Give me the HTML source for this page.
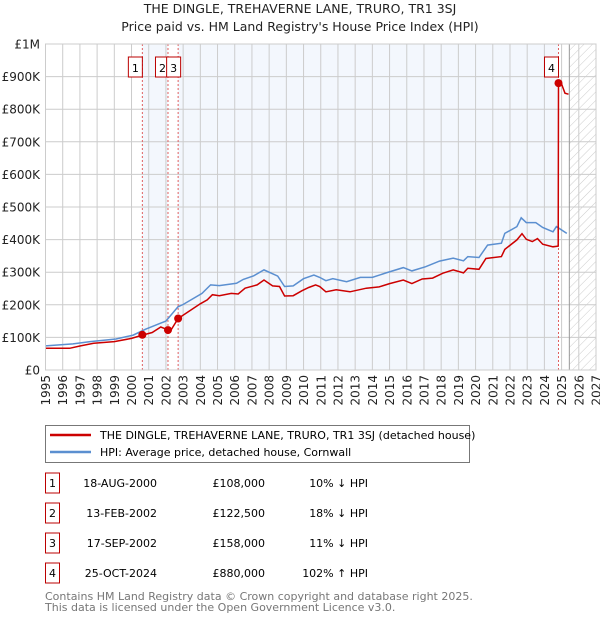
<!DOCTYPE html>
<html><head><meta charset="utf-8"><style>
body{margin:0;background:#fff;font-family:"DejaVu Sans","Liberation Sans",sans-serif;}
svg text{font-family:"DejaVu Sans","Liberation Sans",sans-serif;}
</style></head><body>
<svg id="c" width="600" height="620" xmlns="http://www.w3.org/2000/svg">
<defs><pattern id="hatch" width="6" height="6" patternUnits="userSpaceOnUse" patternTransform="rotate(45)"><line x1="0" y1="0" x2="0" y2="6" stroke="#ccc" stroke-width="1"/></pattern></defs>
<text x="300" y="13" text-anchor="middle" font-size="12.5" fill="#222">THE DINGLE, TREHAVERNE LANE, TRURO, TR1 3SJ</text>
<text x="300" y="31" text-anchor="middle" font-size="12.5" fill="#222">Price paid vs. HM Land Registry's House Price Index (HPI)</text>
<g id="plot"></g>
<g>
<rect x="45.5" y="425.5" width="424" height="37" fill="#fff" stroke="#777"/>
<line x1="50" y1="435" x2="91" y2="435" stroke="#cc0000" stroke-width="2.5"/>
<text x="100" y="439" font-size="11" fill="#000">THE DINGLE, TREHAVERNE LANE, TRURO, TR1 3SJ (detached house)</text>
<line x1="50" y1="452" x2="91" y2="452" stroke="#5b8fd0" stroke-width="2.5"/>
<text x="100" y="456" font-size="11" fill="#000">HPI: Average price, detached house, Cornwall</text>
</g>
<g id="table" font-size="11" fill="#000"></g>
<text x="45" y="600" font-size="11" fill="#777">Contains HM Land Registry data © Crown copyright and database right 2025.</text>
<text x="45" y="611" font-size="11" fill="#777">This data is licensed under the Open Government Licence v3.0.</text>
</svg>
<script>
const hpiYears=[1995,1996.6,1997.6,1999.1,2000.1,2000.8,2001.65,2002.0,2002.7,2003.0,2004.1,2004.6,2005.1,2006.1,2006.5,2007.1,2007.7,2008.5,2008.9,2009.4,2010.0,2010.6,2010.94,2011.3,2011.7,2012.5,2013.3,2014.0,2014.8,2015.8,2016.3,2017.1,2017.9,2018.7,2019.3,2019.55,2020.2,2020.7,2021.5,2021.7,2022.4,2022.65,2022.95,2023.5,2023.9,2024.5,2024.7,2025.3];
const hpiValues=[74,80,87,95,107,125,143,150,194,201,235,261,259,266,278,289,307,288,256,258,280,291,284,274,280,271,284,284,298,314,304,317,334,343,335,348,345,383,389,419,440,467,452,452,437,424,440,419];
const propYears=[1995,1996.4,1997.0,1997.8,1999,2000,2000.63,2001.2,2001.7,2002.12,2002.3,2002.71,2003.2,2004.0,2004.4,2004.7,2005.1,2005.8,2006.2,2006.6,2007.3,2007.7,2008.2,2008.6,2008.9,2009.4,2009.9,2010.3,2010.7,2010.94,2011.3,2011.9,2012.7,2013.65,2014.4,2015.0,2015.8,2016.3,2016.9,2017.5,2018.1,2018.7,2019.3,2019.55,2020.2,2020.6,2021.5,2021.7,2022.4,2022.7,2022.95,2023.3,2023.6,2023.9,2024.5,2024.8,2024.82,2025.0,2025.2,2025.4];
const propValues=[66.5,66.5,73.6,81.8,87,97,107,115,132,123,123,158,175,203,215,231,228,235,233,251,261,276,258,256,227,228,243,253,261,256,240,246,240,251,255,265,276,265,279,282,297,307,298,312,309,342,348,370,399,418,401,394,403,386,378,380,880,877,849,846];
const saleIds=["1","2","3","4"];
const saleYears=[2000.63,2002.12,2002.71,2024.82];
const saleValues=[108,122.5,158,880];
const saleDates=["18-AUG-2000","13-FEB-2002","17-SEP-2002","25-OCT-2024"];
const salePrices=["£108,000","£122,500","£158,000","£880,000"];
const saleHpi=["10% ↓ HPI","18% ↓ HPI","11% ↓ HPI","102% ↑ HPI"];
const yTicks=[0,100,200,300,400,500,600,700,800,900,1000];
const yTickLabels=["£0","£100K","£200K","£300K","£400K","£500K","£600K","£700K","£800K","£900K","£1M"];
const xTicks=[1995,1996,1997,1998,1999,2000,2001,2002,2003,2004,2005,2006,2007,2008,2009,2010,2011,2012,2013,2014,2015,2016,2017,2018,2019,2020,2021,2022,2023,2024,2025,2026,2027];
const dataEnd=2025.45;

const X0=45.5,X1=596,Y0=370,Y1=44;
const xs=y=>X0+(y-1995)/(2027-1995)*(X1-X0);
const ys=v=>Y0-v/1000*(Y0-Y1);
const NS="http://www.w3.org/2000/svg";
const plot=document.getElementById('plot');
function mk(tag,attrs,parent){const e=document.createElementNS(NS,tag);for(const k in attrs)e.setAttribute(k,attrs[k]);(parent||plot).appendChild(e);return e;}
let s1=mk('rect',{x:xs(saleYears[0]),y:Y1,width:xs(saleYears[1])-xs(saleYears[0]),height:Y0-Y1,fill:'#eef3fc',opacity:0.7});


let s2=mk('rect',{x:xs(saleYears[2]),y:Y1,width:xs(saleYears[3])-xs(saleYears[2]),height:Y0-Y1,fill:'#eef3fc',opacity:0.7});


let hz=mk('rect',{x:xs(dataEnd),y:Y1,width:X1-xs(dataEnd),height:Y0-Y1,fill:'url(#hatch)'});


yTicks.forEach((t,i)=>{
 let l=mk('line',{x1:X0,x2:X1,y1:ys(t),y2:ys(t),stroke:'#ccc','stroke-width':1});
 
 
 let tx=mk('text',{x:40,y:ys(t)+4.5,'text-anchor':'end','font-size':12,fill:'#222'});
 tx.textContent=yTickLabels[i];
 
 
});
xTicks.forEach(t=>{
 let l=mk('line',{x1:xs(t),x2:xs(t),y1:Y1,y2:Y0,stroke:'#ccc','stroke-width':1});
 
 
 let tx=mk('text',{x:0,y:0,'font-size':12,fill:'#222','text-anchor':'end',transform:`translate(${xs(t)+4.5},375) rotate(-90)`});
 tx.textContent=t;
 
 
});
let de=mk('line',{x1:xs(dataEnd),x2:xs(dataEnd),y1:Y1,y2:Y0,stroke:'#999','stroke-width':1});


saleYears.forEach((y,i)=>{
 let l=mk('line',{x1:xs(y),x2:xs(y),y1:Y1,y2:Y0,stroke:'#e06060','stroke-width':1,'stroke-dasharray':'2,2'});
 
 
});
const pts=(a,b)=>a.map((y,i)=>xs(y).toFixed(1)+','+ys(b[i]).toFixed(1)).join(' ');
let hp=mk('polyline',{points:pts(hpiYears,hpiValues),fill:'none',stroke:'#5b8fd0','stroke-width':1.5});


let pp=mk('polyline',{points:pts(propYears,propValues),fill:'none',stroke:'#cc0000','stroke-width':1.5});


saleYears.forEach((y,i)=>{
 let c=mk('circle',{cx:xs(y),cy:ys(saleValues[i]),r:4,fill:'#cc0000'});
 
 
});
const lblOff=[-7,-5.5,-4.5,-7];
saleYears.forEach((y,i)=>{
 let cx=xs(y)+lblOff[i];
 let r=mk('rect',{x:cx-7,y:57,width:14,height:20,fill:'#fff',stroke:'#b00','stroke-width':1});
 
 
 let t=mk('text',{x:cx,y:72,'text-anchor':'middle','font-size':11,fill:'#000'});
 t.textContent=saleIds[i];
 
 
});
mk('rect',{x:X0,y:Y1,width:X1-X0,height:Y0-Y1,fill:'none',stroke:'#ccc'});
const tb=document.getElementById('table');
saleIds.forEach((id,i)=>{
 const cy=483+i*30;
 let r=mk('rect',{x:45.5,y:cy-10,width:14,height:20,fill:'#fff',stroke:'#b00'},tb);
 
 
 let t=mk('text',{x:52.5,y:cy+4,'text-anchor':'middle'},tb);t.textContent=id;
 
 
 let d=mk('text',{x:157,y:cy+4,'text-anchor':'end'},tb);d.textContent=saleDates[i];
 
 
 let p=mk('text',{x:265,y:cy+4,'text-anchor':'end'},tb);p.textContent=salePrices[i];
 
 
 let h=mk('text',{x:368,y:cy+4,'text-anchor':'end'},tb);h.textContent=saleHpi[i];
 
 
});
</script>
</body></html>
